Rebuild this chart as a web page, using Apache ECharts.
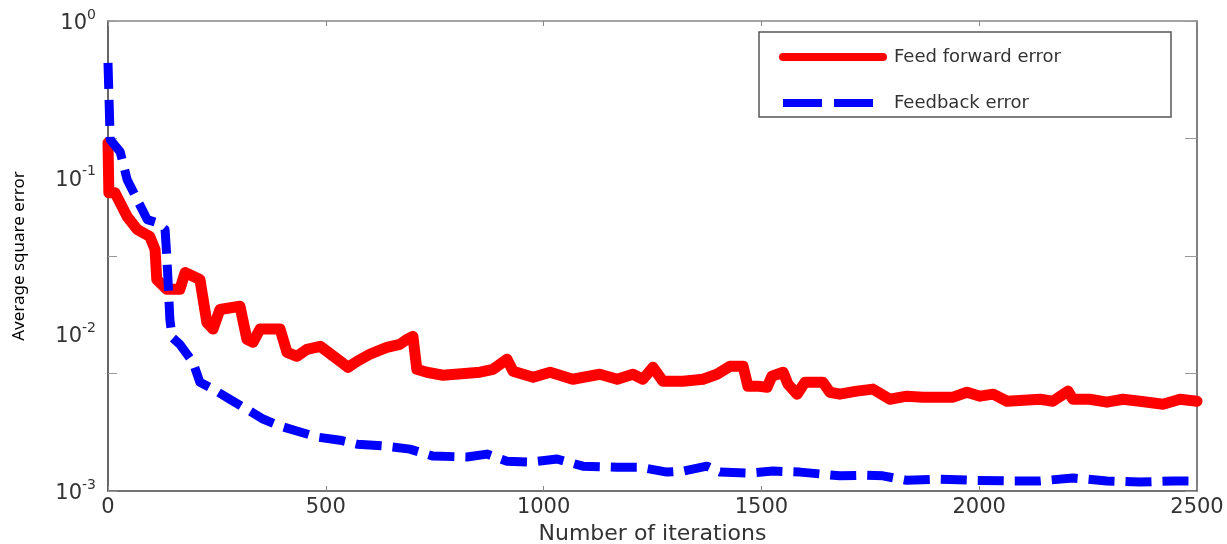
<!DOCTYPE html>
<html>
<head>
<meta charset="utf-8">
<script src="https://cdn.jsdelivr.net/npm/echarts@6/dist/echarts.min.js"></script>
<style>html,body{margin:0;padding:0;background:#fff}#c{width:1227px;height:544px}</style>
</head>
<body>
<div id="c"></div>
<script>
const seriesNames = ['Feed forward error', 'Feedback error'];
const xTicks = [0, 500, 1000, 1500, 2000, 2500];
const yExponents = [0, -1, -2, -3];

const ffIter = [0,2,16,44,67,96,108,112,135,165,177,211,227,241,257,303,319,333,349,395,411,434,457,487,533,551,572,601,640,670,686,700,709,732,769,854,884,916,930,976,1015,1067,1129,1169,1205,1228,1251,1274,1320,1366,1398,1428,1458,1469,1490,1513,1524,1550,1561,1582,1600,1641,1657,1680,1719,1756,1795,1834,1871,1940,1972,2002,2032,2064,2140,2169,2204,2215,2254,2293,2330,2369,2422,2461,2500];
const ffErr = [0.167,0.080,0.080,0.0565,0.0467,0.0421,0.0348,0.0224,0.0194,0.0194,0.0248,0.0224,0.0119,0.0108,0.0144,0.0151,0.0093,0.0089,0.0108,0.0108,0.00768,0.00724,0.00802,0.00839,0.00673,0.00616,0.00673,0.00746,0.00826,0.00863,0.00929,0.00971,0.00598,0.00573,0.00548,0.00573,0.00598,0.00693,0.00581,0.00532,0.00573,0.00517,0.00556,0.00517,0.00556,0.00517,0.00616,0.00502,0.00502,0.00517,0.00556,0.00625,0.00625,0.00467,0.00467,0.00459,0.00540,0.00573,0.00481,0.00415,0.00495,0.00495,0.00427,0.00415,0.00434,0.00447,0.00385,0.00403,0.00397,0.00397,0.00427,0.00403,0.00415,0.00374,0.00385,0.00374,0.00434,0.00385,0.00385,0.00369,0.00385,0.00374,0.00358,0.00385,0.00374];

const fbIter = [0,5,28,44,67,90,112,131,135,138,142,147,165,195,211,241,280,326,356,395,441,480,533,572,631,693,746,824,870,916,969,1031,1090,1168,1221,1283,1320,1375,1405,1474,1527,1589,1641,1680,1742,1779,1834,1910,1986,2064,2140,2215,2293,2369,2445,2500];
const fbErr = [0.540,0.175,0.146,0.0971,0.0724,0.0540,0.0517,0.0467,0.0314,0.0214,0.0125,0.00957,0.00863,0.00664,0.00495,0.00447,0.00385,0.00323,0.00288,0.00260,0.00238,0.00221,0.00211,0.00199,0.00194,0.00185,0.00167,0.00165,0.00172,0.00155,0.00153,0.00160,0.00144,0.00142,0.00142,0.00132,0.00134,0.00144,0.00132,0.00130,0.00134,0.00132,0.00128,0.00125,0.00126,0.00125,0.00117,0.00119,0.00117,0.00116,0.00116,0.00121,0.00116,0.00114,0.00116,0.00116];

const zip = (a, b) => a.map((v, i) => [v, b[i]]);

const chart = echarts.init(document.getElementById('c'), null, {renderer: 'canvas'});
const tickFont = 'DejaVu Sans';
const hiddenSymbol = {color: 'rgba(0,0,0,0)', borderWidth: 0, opacity: 0};
chart.setOption({
  animation: false,
  backgroundColor: '#fff',
  grid: {left: 108, right: 30, top: 21, bottom: 53, containLabel: false, outerBoundsMode: 'none'},
  graphic: [{
    type: 'rect', z: 5,
    shape: {x: 759, y: 32, width: 412, height: 85},
    style: {fill: '#fff', stroke: '#555', lineWidth: 1.5}
  }],
  legend: {
    z: 10,
    orient: 'vertical',
    left: 779, top: 48,
    padding: 0,
    itemWidth: 100, itemHeight: 14, itemGap: 28,
    itemStyle: hiddenSymbol,
    textStyle: {fontFamily: tickFont, fontSize: 18, color: '#333', padding: [0, 0, 0, 6]},
    data: [
      {name: seriesNames[0], itemStyle: hiddenSymbol, lineStyle: {width: 8, color: '#ff0000', type: 'solid'}},
      {name: seriesNames[1], itemStyle: hiddenSymbol, lineStyle: {width: 8, color: '#0000ff', type: [39, 12]}}
    ]
  },
  xAxis: [{
    type: 'value', min: 0, max: 2500, interval: 500, position: 'bottom',
    name: 'Number of iterations', nameLocation: 'middle', nameGap: 29,
    nameTextStyle: {fontFamily: tickFont, fontSize: 22, color: '#333'},
    axisLine: {show: true, lineStyle: {color: '#444', width: 1.5}},
    axisTick: {show: true, inside: true, length: 5, lineStyle: {color: '#888'}},
    axisLabel: {fontFamily: tickFont, fontSize: 21, color: '#333', margin: 6,
      formatter: v => xTicks.indexOf(v) >= 0 ? String(v) : ''},
    splitLine: {show: false}
  }, {
    type: 'value', min: 0, max: 2500, interval: 500, position: 'top',
    axisLine: {show: true, onZero: false, lineStyle: {color: '#888', width: 1.5}},
    axisTick: {show: true, inside: true, length: 5, lineStyle: {color: '#888'}},
    axisLabel: {show: false},
    splitLine: {show: false}
  }],
  yAxis: [{
    type: 'log', logBase: 10, min: 0.001, max: 1, position: 'left',
    name: 'Average square error', nameLocation: 'middle', nameRotate: 90, nameGap: 80,
    nameTextStyle: {fontFamily: 'Noto Sans', fontSize: 17, color: '#000'},
    axisLine: {show: true, lineStyle: {color: '#333', width: 1.5}},
    axisTick: {show: false},
    splitLine: {show: false},
    axisLabel: {
      margin: 12,
      formatter: v => {
        const e = Math.round(Math.log10(v));
        return yExponents.indexOf(e) >= 0 ? '{b|10}{s|' + e + '}' : '';
      },
      rich: {
        b: {fontFamily: tickFont, fontSize: 21, color: '#333', lineHeight: 26, verticalAlign: 'bottom'},
        s: {fontFamily: tickFont, fontSize: 14, color: '#333', lineHeight: 14, verticalAlign: 'top'}
      }
    }
  }, {
    type: 'value', min: 0, max: 4, interval: 1, position: 'left',
    axisLine: {show: false},
    axisTick: {show: true, inside: true, length: 9, lineStyle: {color: '#999'}},
    axisLabel: {show: false}, splitLine: {show: false}
  }, {
    type: 'value', min: 0, max: 4, interval: 1, position: 'right',
    axisLine: {show: true, onZero: false, lineStyle: {color: '#555', width: 1.5}},
    axisTick: {show: true, inside: true, length: 12, lineStyle: {color: '#999'}},
    axisLabel: {show: false}, splitLine: {show: false}
  }],
  series: [{
    name: seriesNames[0], type: 'line', xAxisIndex: 0, yAxisIndex: 0,
    data: zip(ffIter, ffErr), showSymbol: false, symbol: 'none',
    lineStyle: {color: '#ff0000', width: 11, join: 'round', cap: 'round'},
    itemStyle: {color: '#ff0000'}
  }, {
    name: seriesNames[1], type: 'line', xAxisIndex: 0, yAxisIndex: 0,
    data: zip(fbIter, fbErr), showSymbol: false, symbol: 'none',
    lineStyle: {color: '#0000ff', width: 9, type: [26, 11], join: 'round'},
    itemStyle: {color: '#0000ff'}
  }]
});
</script>
</body>
</html>
